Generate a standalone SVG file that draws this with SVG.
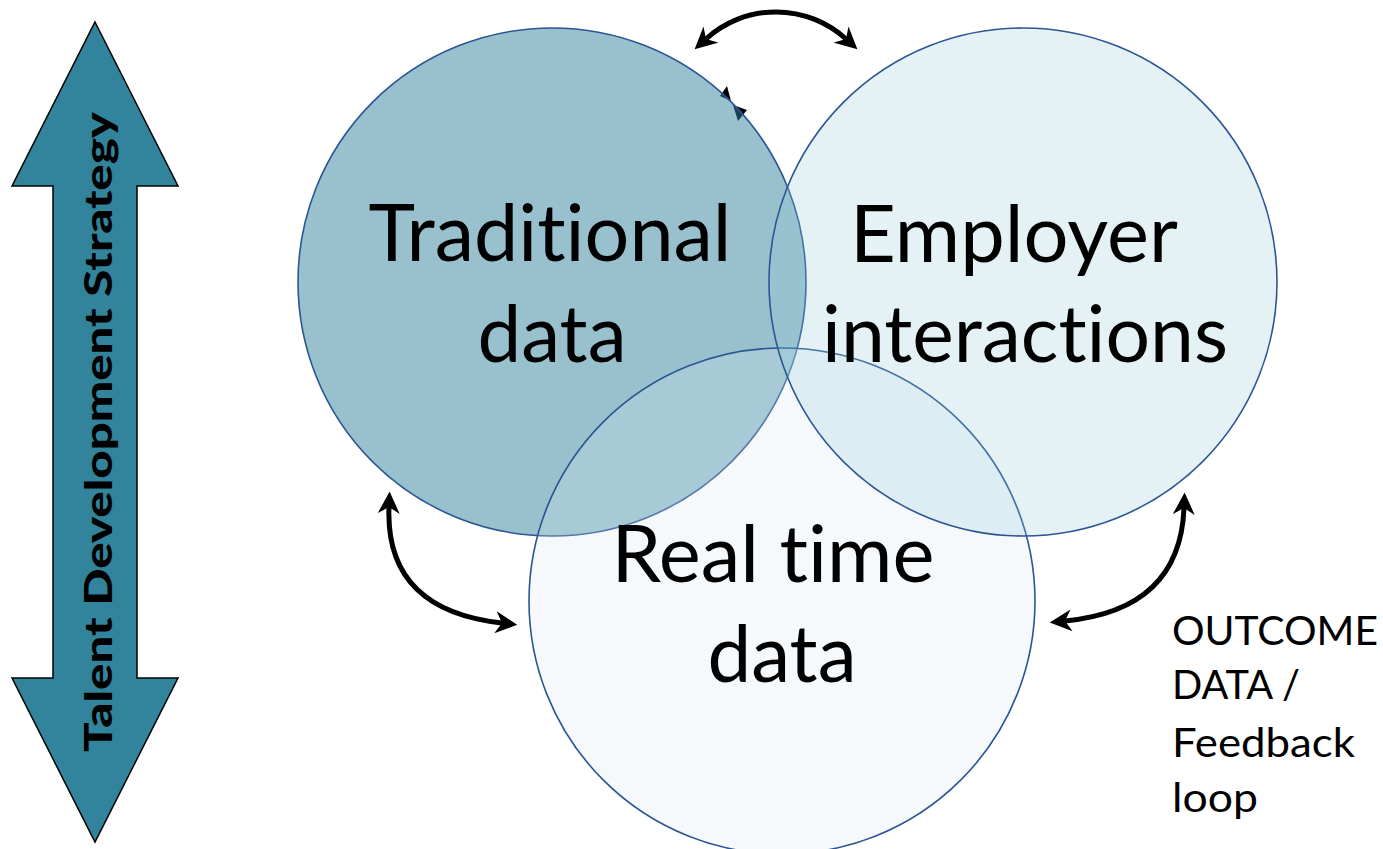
<svg xmlns="http://www.w3.org/2000/svg" width="1383" height="849" viewBox="0 0 1383 849">
  <style>
    .label { font-family: Lato, "Liberation Sans", sans-serif; fill: #000; font-variant-ligatures: none; font-feature-settings: "liga" 0, "clig" 0; }
    .big { font-size: 80px; text-anchor: middle; }
    .side { font-size: 41px; }
    .ring { stroke: #2b5593; stroke-width: 1.6; }
    .link { fill: none; stroke: #000; stroke-width: 5; }
  </style>
  <defs>
    <marker id="head" viewBox="0 0 10 10" refX="3" refY="5" markerWidth="22" markerHeight="22" markerUnits="userSpaceOnUse" orient="auto-start-reverse">
      <path d="M0,0 L10,5 L0,10 L3,5 Z" fill="#000"/>
    </marker>
  </defs>

  <rect width="1383" height="849" fill="#fff"/>

  <!-- vertical strategy arrow -->
  <g id="strategy">
    <polygon points="95,22 178,186 137,186 137,678 178,678 95,842 12,678 53,678 53,186 12,186" fill="#31849b" stroke="#000" stroke-width="1.5" stroke-linejoin="miter"/>
    <text class="label" x="0" y="0" transform="translate(112,432) rotate(-90)" font-size="37" font-weight="900" text-anchor="middle" textLength="640" lengthAdjust="spacingAndGlyphs">Talent Development Strategy</text>
  </g>

  <!-- small stray double arrowhead, sits under the traditional circle -->
  <g id="stub">
    <polygon points="727,86 720,96 731,101" fill="#000"/>
    <polygon points="747,110 733,105 738,121" fill="#000"/>
  </g>

  <!-- circles: traditional, real time, employer (drawn in that order) -->
  <g id="traditional">
    <circle class="ring" cx="552" cy="282" r="254" fill="#31849b" fill-opacity="0.5"/>
  </g>
  <g id="realtime">
    <circle class="ring" cx="782" cy="601" r="253" fill="#d8e8f4" fill-opacity="0.25"/>
  </g>
  <g id="employer">
    <circle class="ring" cx="1023" cy="282" r="254" fill="#92cddc" fill-opacity="0.25"/>
  </g>

  <!-- connectors -->
  <g id="connectors">
    <path class="link" d="M706,39 A104,104 0 0 1 846,39" marker-start="url(#head)" marker-end="url(#head)"/>
    <path class="link" d="M389,507 Q385,610 502,623" marker-start="url(#head)" marker-end="url(#head)"/>
    <path class="link" d="M1184,508 Q1180,610 1065,621" marker-start="url(#head)" marker-end="url(#head)"/>
  </g>

  <!-- circle labels -->
  <g id="labels">
    <text class="label big" x="550" y="261" textLength="363" lengthAdjust="spacingAndGlyphs">Traditional</text>
    <text class="label big" x="552" y="362" textLength="149" lengthAdjust="spacingAndGlyphs">data</text>
    <text class="label big" x="1014" y="262" textLength="328" lengthAdjust="spacingAndGlyphs">Employer</text>
    <text class="label big" x="1025" y="362" textLength="406" lengthAdjust="spacingAndGlyphs">interactions</text>
    <text class="label big" x="773" y="582" textLength="323" lengthAdjust="spacingAndGlyphs">Real time</text>
    <text class="label big" x="782" y="682" textLength="149" lengthAdjust="spacingAndGlyphs">data</text>
  </g>

  <g id="outcome">
    <text class="label side" x="1172" y="645" textLength="206" lengthAdjust="spacingAndGlyphs">OUTCOME</text>
    <text class="label side" x="1172" y="699" textLength="128" lengthAdjust="spacingAndGlyphs">DATA /</text>
    <text class="label side" x="1172" y="757" textLength="183" lengthAdjust="spacingAndGlyphs">Feedback</text>
    <text class="label side" x="1172" y="812" textLength="86" lengthAdjust="spacingAndGlyphs">loop</text>
  </g>
</svg>
